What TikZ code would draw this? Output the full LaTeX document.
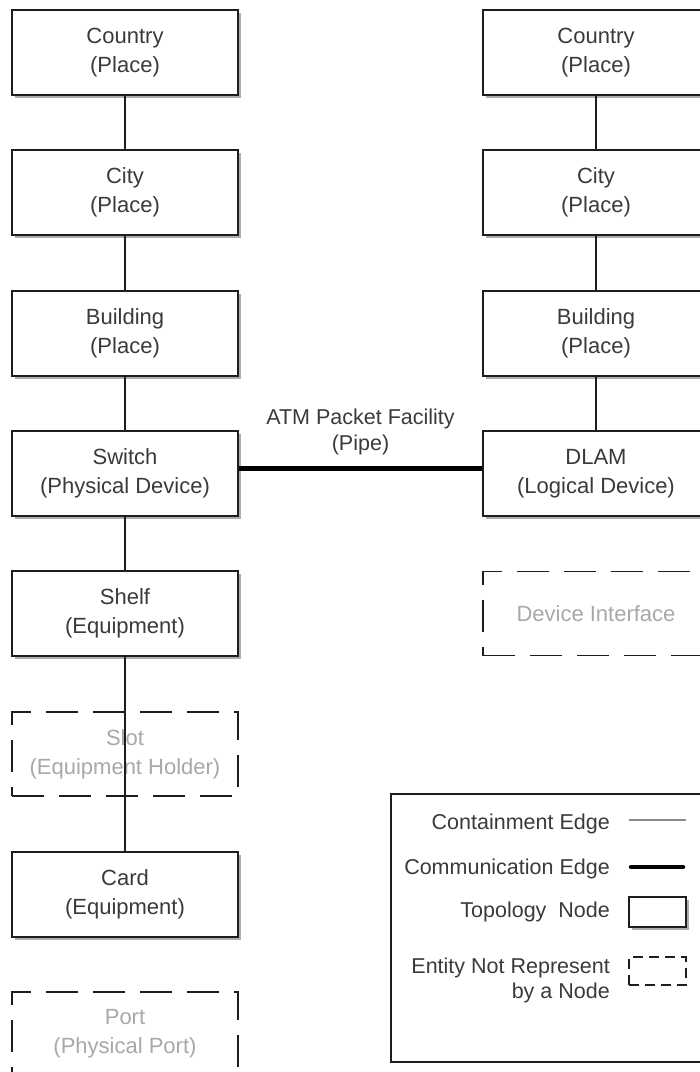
\documentclass[tikz,border=0pt]{standalone}
\usepackage{fontspec}
\setmainfont{Liberation Sans}
\usetikzlibrary{shadows}
\definecolor{txt}{HTML}{3A3A3A}
\definecolor{ghost}{HTML}{A8A8A8}
\definecolor{edgec}{HTML}{1E1E1E}
\definecolor{legline}{HTML}{8A8A8A}
\begin{document}
\begin{tikzpicture}[x=1pt,y=-1pt,
  topo/.style={draw=edgec, line width=1.6pt, fill=white, minimum width=226pt,
    minimum height=85pt, inner sep=0pt, align=center, text=txt,
    font=\fontsize{22}{29}\selectfont,
    drop shadow={shadow xshift=3pt, shadow yshift=-3pt, fill=black!32, opacity=1}},
  ghostbox/.style={draw=edgec, line width=1.6pt, dash pattern=on 32pt off 15pt,
    minimum width=226pt, minimum height=84pt, inner sep=0pt, align=center,
    text=ghost, font=\fontsize{22}{29}\selectfont},
  contain/.style={draw=edgec, line width=1.6pt},
  comm/.style={draw=black, line width=5pt},
  legtxt/.style={text=txt, font=\fontsize{21.5}{25}\selectfont, inner sep=0pt, align=right},
  legbox/.style={draw=edgec, line width=1.6pt, inner sep=0pt},
]
\useasboundingbox (0,0) rectangle (700,1072);
\clip (0,0) rectangle (700,1072);

% left column
\node[topo] (lcountry) at (125,52.5) {Country\\(Place)};
\node[topo] (lcity) at (125,192.5) {City\\(Place)};
\node[topo] (lbuilding) at (125,333.5) {Building\\(Place)};
\node[topo] (lswitch) at (125,473.5) {Switch\\(Physical Device)};
\node[topo] (lshelf) at (125,613.5) {Shelf\\(Equipment)};
\node[ghostbox] (lslot) at (125,754) {Slot\\(Equipment Holder)};
\node[topo] (lcard) at (125,894.5) {Card\\(Equipment)};
\node[ghostbox] (lport) at (125,1034) {Port\\(Physical Port)};

% right column
\node[topo] (rcountry) at (596,52.5) {Country\\(Place)};
\node[topo] (rcity) at (596,192.5) {City\\(Place)};
\node[topo] (rbuilding) at (596,333.5) {Building\\(Place)};
\node[topo] (rdlam) at (596,473.5) {DLAM\\(Logical Device)};
\node[ghostbox] (rdevif) at (596,613.5) {Device Interface};

% containment edges
\draw[contain] (lcountry) -- (lcity);
\draw[contain] (lcity) -- (lbuilding);
\draw[contain] (lbuilding) -- (lswitch);
\draw[contain] (lswitch) -- (lshelf);
\draw[contain] (lshelf.south) -- (lcard.north);
\draw[contain] (rcountry) -- (rcity);
\draw[contain] (rcity) -- (rbuilding);
\draw[contain] (rbuilding) -- (rdlam);

% communication edge
\draw[comm] ([yshift=5.5pt]lswitch.east) -- node[above=11pt, inner sep=0pt, align=center,
  text=txt, font=\fontsize{21.5}{26}\selectfont] (pipe) {ATM Packet Facility\\(Pipe)}
  ([yshift=5.5pt]rdlam.west);

% legend
\node[legbox, minimum width=322pt, minimum height=268pt] (legend) at (552,928) {};
\node[legtxt, anchor=base east] (lg1) at (610,829) {Containment Edge};
\coordinate (lg1a) at (629,820);
\coordinate (lg1b) at (686,820);
\draw[draw=legline, line width=2pt] (lg1a) -- (lg1b);
\node[legtxt, anchor=base east] (lg2) at (610,874) {Communication Edge};
\coordinate (lg2a) at (631,867);
\coordinate (lg2b) at (683,867);
\draw[draw=black, line width=4.5pt, line cap=round] (lg2a) -- (lg2b);
\node[legtxt, anchor=base east] (lg3) at (610,917) {Topology\ \ Node};
\node[topo, minimum width=57pt, minimum height=30pt] (lg3box) at (657.5,912) {};
\node[legtxt, anchor=north east] (lg4) at (610,958) {Entity Not Represent\\by a Node};
\node[draw=edgec, line width=1.6pt, dash pattern=on 10pt off 6pt, minimum width=57pt,
  minimum height=28pt, inner sep=0pt] (lg4box) at (657.5,971) {};
\end{tikzpicture}
\end{document}
